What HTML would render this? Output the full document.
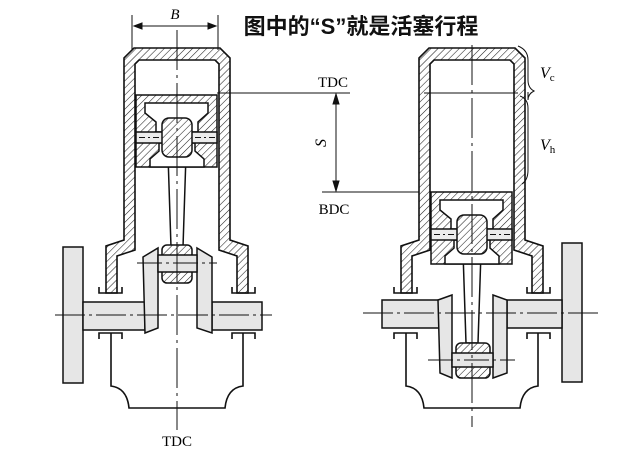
<!DOCTYPE html>
<html><head><meta charset="utf-8"><style>html,body{margin:0;padding:0;background:#fff}svg{display:block}</style></head><body>
<svg width="640" height="460" viewBox="0 0 640 460" xmlns="http://www.w3.org/2000/svg" font-family="Liberation Serif, serif">
<defs>
<pattern id="h" width="5" height="5" patternUnits="userSpaceOnUse" patternTransform="rotate(45)">
<rect width="5" height="5" fill="#fff"/><line x1="0" y1="0" x2="0" y2="5" stroke="#222" stroke-width="1.1"/>
</pattern>
<g id="cyl" stroke="#111" stroke-width="1.6">
<path d="M-43,48 L43,48 L53,58 L53,240 L71,246 L71,293 L60,293 L60,256 L42,250 L42,64 L38,60 L-38,60 L-42,64 L-42,250 L-60,256 L-60,293 L-71,293 L-71,246 L-53,240 L-53,58 Z" fill="url(#h)"/>
<path d="M-78,287 v6 h23 v-6 M55,287 v6 h23 v-6 M-78,339 v-6 h23 v6 M55,339 v-6 h23 v6" fill="none"/>
<path d="M-66,333 V386 Q-50,388 -48,408 H48 Q50,388 66,386 V333" fill="none"/>
</g>
<g id="pis" stroke="#111" stroke-width="1.5">
<rect x="-41" y="0" width="81" height="72" fill="url(#h)"/>
<path d="M-32,8 H31 V18 L21,27 V37 H-21 V27 L-32,18 Z" fill="#fff"/>
<path d="M-18,48 H18 V56 L27,64 V72 H-27 V64 L-18,56 Z" fill="#fff"/>
<rect x="-41" y="37" width="81" height="11" fill="#ececec"/>
<path d="M-38,42.5 H38" stroke-dasharray="6 3 2 3" stroke-width="1"/>
<rect x="-15" y="23" width="30" height="39" rx="7" fill="url(#h)"/>
</g>
</defs>

<text x="361" y="34" text-anchor="middle" font-family="Liberation Sans, Noto Sans CJK SC, sans-serif" font-weight="bold" font-size="22" fill="#111">图中的“S”就是活塞行程</text>

<!-- LEFT ENGINE -->
<g transform="translate(177,0)"><use href="#cyl"/></g>
<g stroke="#111" stroke-width="1">
<line x1="132" y1="15" x2="132" y2="50"/><line x1="218" y1="15" x2="218" y2="50"/>
<line x1="134" y1="26" x2="216" y2="26"/>
<path d="M134,26 l8,-3 v6 Z M216,26 l-8,-3 v6 Z" fill="#111"/>
</g>
<text x="175" y="19" font-size="15" font-style="italic" text-anchor="middle">B</text>
<path d="M168,155 L186,155 L183,247 L171,247 Z" fill="#fff" stroke="#111" stroke-width="1.5"/>
<g transform="translate(177,95)"><use href="#pis"/></g>
<g stroke="#111" stroke-width="1.5" fill="#e6e6e6">
<rect x="63" y="247" width="20" height="136"/>
<rect x="83" y="302" width="62" height="28"/>
<rect x="212" y="302" width="50" height="28"/>
<path d="M143,257 L158,248 L158,328 L145,333 Z"/>
<path d="M197,248 L212,257 L212,333 L197,328 Z"/>
<rect x="162" y="245" width="30" height="38" rx="5" fill="url(#h)"/>
<rect x="158" y="255" width="39" height="17"/>
</g>
<g stroke="#111" stroke-width="1" fill="none">
<line x1="55" y1="315" x2="272" y2="315" stroke-dasharray="30 4 3 4"/>
<line x1="137" y1="263" x2="217" y2="263" stroke-dasharray="25 4 3 4"/>
<line x1="177" y1="30" x2="177" y2="430" stroke-dasharray="40 5 3 5"/>
<line x1="217" y1="93" x2="350" y2="93"/>
<line x1="322" y1="192" x2="432" y2="192"/>
<line x1="336" y1="95" x2="336" y2="190"/>
<path d="M336,94 l-3,10 h6 Z M336,191 l-3,-10 h6 Z" fill="#111"/>
</g>
<text x="333" y="87" font-size="15" text-anchor="middle">TDC</text>
<text x="334" y="214" font-size="15" text-anchor="middle">BDC</text>
<text x="0" y="0" font-size="16" font-style="italic" transform="translate(326,143) rotate(-90)" text-anchor="middle">S</text>
<text x="177" y="446" font-size="15" text-anchor="middle">TDC</text>

<!-- RIGHT ENGINE -->
<g transform="translate(472,0)"><use href="#cyl"/></g>
<path d="M463,252 L481,252 L478,343 L466,343 Z" fill="#fff" stroke="#111" stroke-width="1.5"/>
<g transform="translate(472,192)"><use href="#pis"/></g>
<g stroke="#111" stroke-width="1.5" fill="#e6e6e6">
<rect x="562" y="243" width="20" height="139"/>
<rect x="382" y="300" width="58" height="28"/>
<rect x="507" y="300" width="55" height="28"/>
<path d="M438,300 L452,295 L452,378 L440,373 Z"/>
<path d="M493,295 L507,300 L507,373 L493,378 Z"/>
<rect x="456" y="343" width="34" height="35" rx="5" fill="url(#h)"/>
<rect x="452" y="353" width="41" height="14"/>
</g>
<g stroke="#111" stroke-width="1" fill="none">
<line x1="363" y1="313" x2="602" y2="313" stroke-dasharray="30 4 3 4"/>
<line x1="428" y1="360" x2="515" y2="360" stroke-dasharray="25 4 3 4"/>
<line x1="472" y1="45" x2="472" y2="427" stroke-dasharray="40 5 3 5"/>
<line x1="424" y1="93" x2="518" y2="93"/>
<path d="M518,46 Q528,50 528,60 V80 Q528,88 534,91 Q528,94 528,100 V92"/>
<path d="M520,96 Q528,99 528,108 V170 Q528,180 522,184"/>
</g>
<text x="540" y="78" font-size="16" font-style="italic">V<tspan font-size="11" font-style="normal" dy="3">c</tspan></text>
<text x="540" y="150" font-size="16" font-style="italic">V<tspan font-size="11" font-style="normal" dy="3">h</tspan></text>
</svg>
</body></html>
